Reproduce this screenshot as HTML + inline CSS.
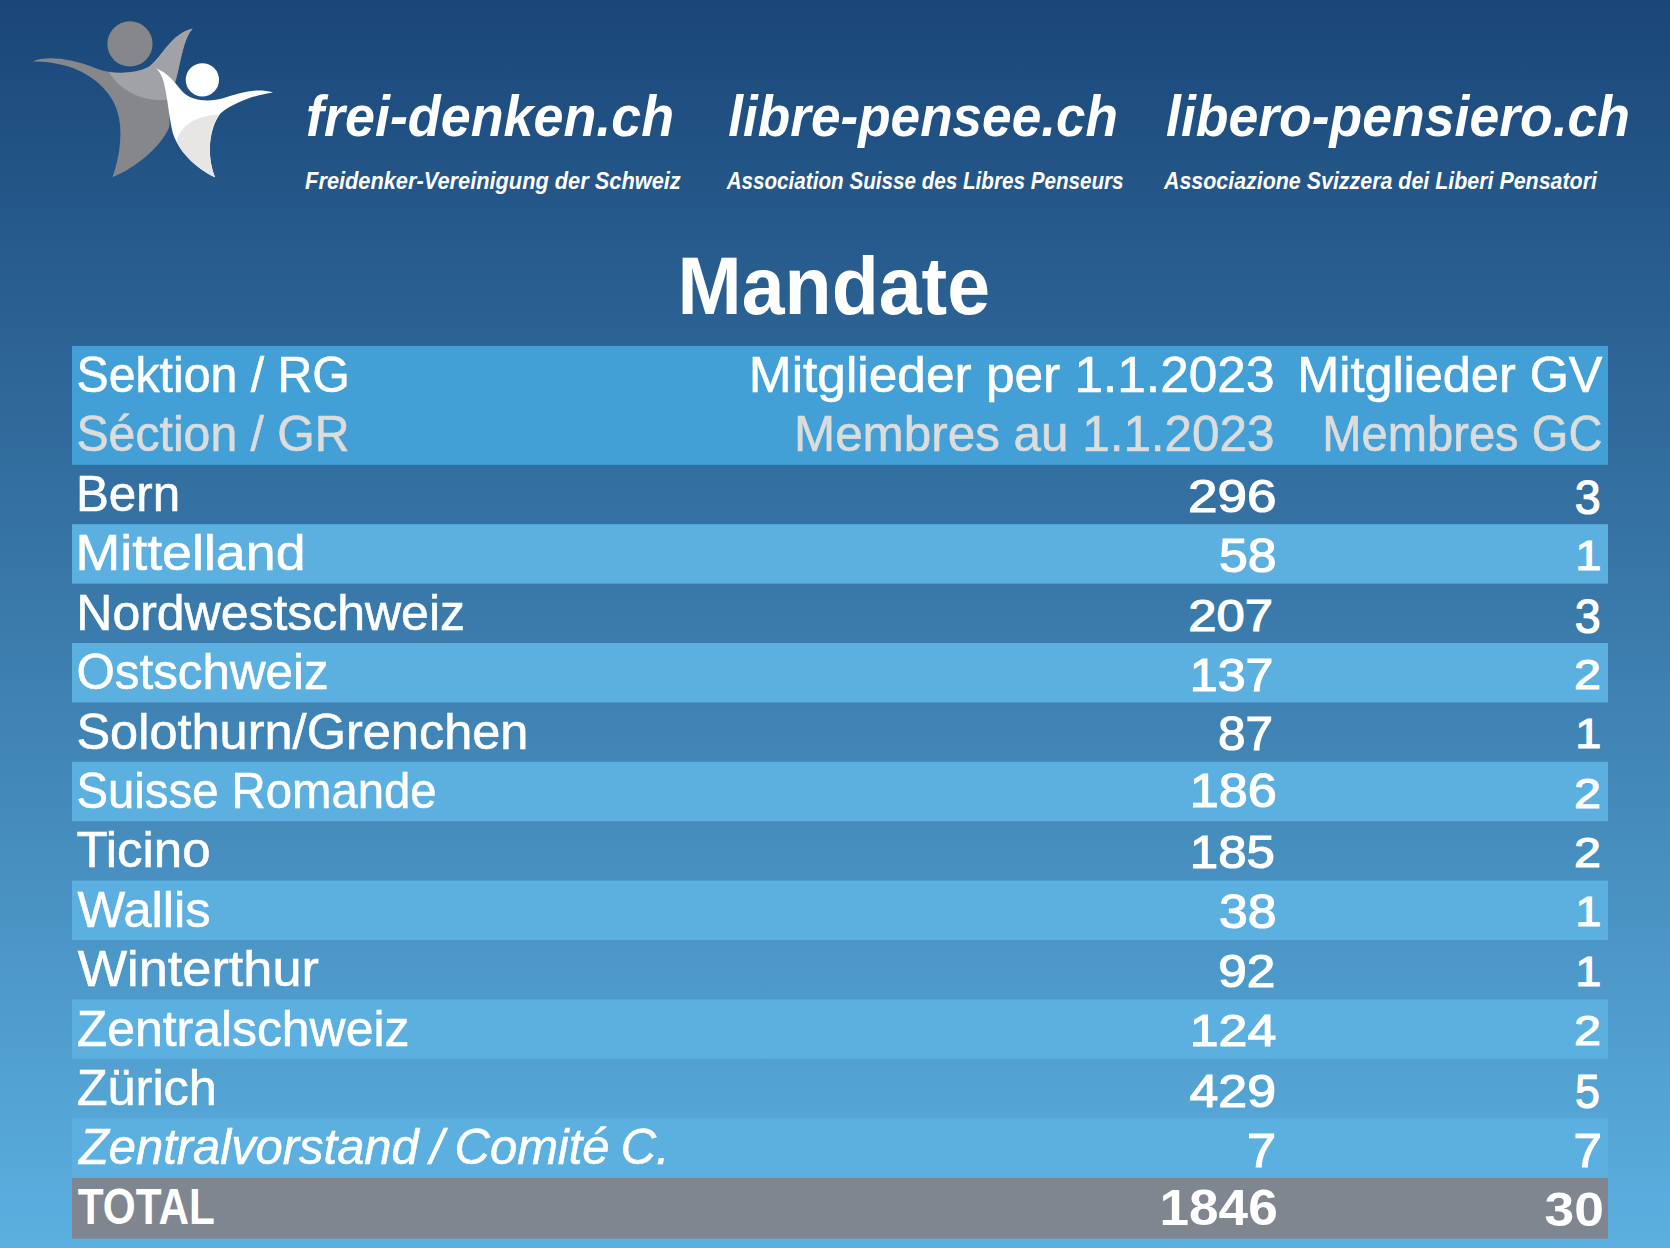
<!DOCTYPE html>
<html lang="de"><head><meta charset="utf-8"><title>Mandate</title>
<style>
html,body{margin:0;padding:0;}
body{width:1670px;height:1248px;overflow:hidden;background:linear-gradient(180deg,#1a4678 0%,#5bb0e0 100%);font-family:"Liberation Sans", Arial, sans-serif;}
svg{display:block;position:absolute;left:0;top:0;}
svg text{font-family:"Liberation Sans", Arial, sans-serif;}
</style></head><body>
<svg width="1670" height="1248" viewBox="0 0 1670 1248">
<defs><linearGradient id="bg" x1="0" y1="0" x2="0" y2="1"><stop offset="0" stop-color="#1a4678"/><stop offset="1" stop-color="#5bb0e0"/></linearGradient></defs>
<rect x="0" y="0" width="1670" height="1248" fill="url(#bg)"/>
<g transform="translate(20,10) scale(0.16168)">
<circle cx="680" cy="210" r="140" fill="#85878b"/>
<path fill="#85878b" d="M80,318 C150,285 300,290 480,365 C560,395 720,400 800,350 C880,290 930,150 1068,115 C1010,180 1000,300 965,430 C940,520 925,620 925,720 C870,850 720,970 572,1035 C620,900 640,740 600,620 C560,500 450,400 300,350 C220,325 150,318 80,318 Z"/>
<path fill="#a0a2a7" d="M550,385 C620,395 730,390 800,350 C880,290 930,150 1068,115 C1010,180 1000,300 965,430 L905,555 C760,570 620,500 550,385 Z"/>
<circle cx="1128" cy="432" r="103" fill="#ffffff"/>
<path fill="#ffffff" d="M840,360 C915,388 960,450 1000,500 C1060,570 1180,570 1260,545 C1360,510 1470,480 1565,510 C1470,524 1340,560 1241,638 C1190,700 1140,860 1206,1035 C1090,980 980,870 945,760 C925,680 915,560 890,450 C880,410 866,382 840,360 Z"/>
<path fill="#e8e6e5" d="M1232,646 C1110,650 1000,700 968,810 C1000,890 1090,980 1206,1035 C1140,860 1190,700 1232,646 Z"/>
</g>

<g>
<rect x="72" y="346.0" width="1536" height="118.8" fill="#43a0d6"/>
<rect x="72" y="524.2" width="1536" height="59.4" fill="#5bb0e0"/>
<rect x="72" y="643.0" width="1536" height="59.4" fill="#5bb0e0"/>
<rect x="72" y="761.8" width="1536" height="59.4" fill="#5bb0e0"/>
<rect x="72" y="880.6" width="1536" height="59.4" fill="#5bb0e0"/>
<rect x="72" y="999.4" width="1536" height="59.4" fill="#5bb0e0"/>
<rect x="72" y="1118.2" width="1536" height="59.4" fill="#5bb0e0"/>
<rect x="72" y="1178.0" width="1536" height="60.7" fill="#808690"/>
</g>
<g fill="#fff" stroke="#fff" stroke-width="0">
<text transform="translate(306.11,136.20) scale(0.9447,1.0)" font-size="57" font-weight="bold" font-style="italic">frei-denken.ch</text>
<text transform="translate(728.37,136.20) scale(0.9316,1.0)" font-size="57" font-weight="bold" font-style="italic">libre-pensee.ch</text>
<text transform="translate(1166.06,136.20) scale(0.9391,1.0)" font-size="57" font-weight="bold" font-style="italic">libero-pensiero.ch</text>
<text transform="translate(305.10,188.60) scale(0.9082,1.0)" font-size="24" font-weight="bold" font-style="italic">Freidenker-Vereinigung der Schweiz</text>
<text transform="translate(726.65,188.60) scale(0.8606,1.0)" font-size="24" font-weight="bold" font-style="italic">Association Suisse des Libres Penseurs</text>
<text transform="translate(1163.96,188.60) scale(0.8921,1.0)" font-size="24" font-weight="bold" font-style="italic">Associazione Svizzera dei Liberi Pensatori</text>
<text transform="translate(677.54,313.90) scale(0.9514,1.0)" font-size="81" font-weight="bold">Mandate</text>
<text transform="translate(76.47,392.20) scale(0.9644,1.0)" font-size="50" stroke-width="0.6">Sektion / RG</text>
<text transform="translate(76.47,451.20) scale(0.9639,1.0)" font-size="50" fill="#dcdcdc" stroke="#dcdcdc" stroke-width="0.6">Séction / GR</text>
<text transform="translate(748.85,392.20) scale(1.0282,1.0)" font-size="50" stroke-width="0.6">Mitglieder per 1.1.2023</text>
<text transform="translate(794.00,451.20) scale(0.9881,1.0)" font-size="50" fill="#dcdcdc" stroke="#dcdcdc" stroke-width="0.6">Membres au 1.1.2023</text>
<text transform="translate(1297.22,392.20) scale(1.0082,1.0)" font-size="50" stroke-width="0.6">Mitglieder GV</text>
<text transform="translate(1322.27,451.20) scale(0.9427,1.0)" font-size="50" fill="#dcdcdc" stroke="#dcdcdc" stroke-width="0.6">Membres GC</text>
<text transform="translate(75.90,511.00) scale(0.9864,1.0)" font-size="50" stroke-width="0.6">Bern</text>
<text transform="translate(1188.07,511.63) scale(1.1255,1.0)" font-size="47.1" stroke-width="1.2">296</text>
<text transform="translate(1574.74,513.90) scale(0.9600,1.0)" font-size="48.6" stroke-width="1.2">3</text>
<text transform="translate(75.57,570.40) scale(1.0749,1.0)" font-size="50" stroke-width="0.6">Mittelland</text>
<text transform="translate(1218.94,571.55) scale(1.0577,1.0)" font-size="49.0" stroke-width="1.2">58</text>
<text transform="translate(1575.24,570.00) scale(1.0850,1.0)" font-size="43.3" stroke-width="1.2">1</text>
<text transform="translate(76.35,629.80) scale(0.9991,1.0)" font-size="50" stroke-width="0.6">Nordwestschweiz</text>
<text transform="translate(1188.20,630.53) scale(1.1257,1.0)" font-size="45.1" stroke-width="1.2">207</text>
<text transform="translate(1574.74,632.70) scale(0.9600,1.0)" font-size="48.6" stroke-width="1.2">3</text>
<text transform="translate(76.43,689.20) scale(0.9869,1.0)" font-size="50" stroke-width="0.6">Ostschweiz</text>
<text transform="translate(1189.86,691.00) scale(1.0695,1.0)" font-size="46.8" stroke-width="1.2">137</text>
<text transform="translate(1574.02,688.80) scale(1.1166,1.0)" font-size="43.3" stroke-width="1.2">2</text>
<text transform="translate(76.38,748.60) scale(1.0104,1.0)" font-size="50" stroke-width="0.6">Solothurn/Grenchen</text>
<text transform="translate(1217.99,749.75) scale(1.0096,1.0)" font-size="49.0" stroke-width="1.2">87</text>
<text transform="translate(1575.24,748.20) scale(1.0850,1.0)" font-size="43.3" stroke-width="1.2">1</text>
<text transform="translate(76.51,808.00) scale(0.9459,1.0)" font-size="50" stroke-width="0.6">Suisse Romande</text>
<text transform="translate(1189.69,807.47) scale(1.1030,1.0)" font-size="47.3" stroke-width="1.2">186</text>
<text transform="translate(1574.02,807.60) scale(1.1166,1.0)" font-size="43.3" stroke-width="1.2">2</text>
<text transform="translate(76.42,867.40) scale(1.0199,1.0)" font-size="50" stroke-width="0.6">Ticino</text>
<text transform="translate(1189.77,868.03) scale(1.0826,1.0)" font-size="47.1" stroke-width="1.2">185</text>
<text transform="translate(1574.02,867.00) scale(1.1166,1.0)" font-size="43.3" stroke-width="1.2">2</text>
<text transform="translate(77.56,926.80) scale(1.0111,1.0)" font-size="50" stroke-width="0.6">Wallis</text>
<text transform="translate(1218.94,927.95) scale(1.0577,1.0)" font-size="49.0" stroke-width="1.2">38</text>
<text transform="translate(1575.24,926.40) scale(1.0850,1.0)" font-size="43.3" stroke-width="1.2">1</text>
<text transform="translate(77.76,986.20) scale(1.0459,1.0)" font-size="50" stroke-width="0.6">Winterthur</text>
<text transform="translate(1218.30,987.45) scale(1.1179,1.0)" font-size="45.9" stroke-width="1.2">92</text>
<text transform="translate(1575.24,985.80) scale(1.0850,1.0)" font-size="43.3" stroke-width="1.2">1</text>
<text transform="translate(76.70,1045.60) scale(0.9982,1.0)" font-size="50" stroke-width="0.6">Zentralschweiz</text>
<text transform="translate(1189.80,1046.30) scale(1.1493,1.0)" font-size="45.1" stroke-width="1.2">124</text>
<text transform="translate(1574.02,1045.20) scale(1.1166,1.0)" font-size="43.3" stroke-width="1.2">2</text>
<text transform="translate(76.69,1105.00) scale(1.0096,1.0)" font-size="50" stroke-width="0.6">Zürich</text>
<text transform="translate(1189.40,1106.80) scale(1.1093,1.0)" font-size="46.8" stroke-width="1.2">429</text>
<text transform="translate(1575.08,1107.90) scale(0.9200,1.0)" font-size="48.6" stroke-width="1.2">5</text>
<text transform="translate(78.94,1164.40) scale(0.9783,1.0)" font-size="50" font-style="italic" stroke-width="0.6" word-spacing="-2.5">Zentralvorstand / Comité C.</text>
<text transform="translate(1247.02,1167.30) scale(1.0771,1.0)" font-size="48.6" stroke-width="1.2">7</text>
<text transform="translate(1573.47,1167.30) scale(1.0515,1.0)" font-size="48.6" stroke-width="1.2">7</text>
<text transform="translate(77.70,1223.80) scale(0.8466,1.0)" font-size="50" font-weight="bold">TOTAL</text>
<text transform="translate(1159.57,1224.72) scale(1.0771,1.0)" font-size="49.3" font-weight="bold">1846</text>
<text transform="translate(1544.48,1225.70) scale(1.1185,1.0)" font-size="47.7" font-weight="bold">30</text>
</g>
</svg>
</body></html>
